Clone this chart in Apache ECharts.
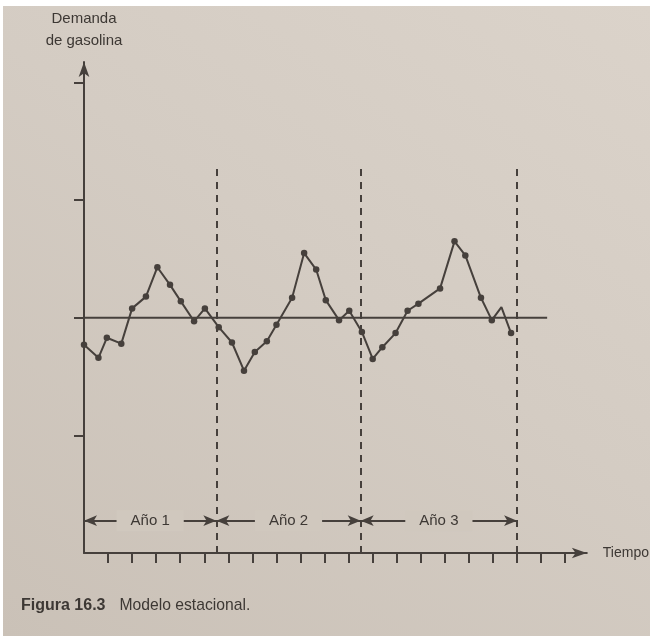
<!DOCTYPE html>
<html>
<head>
<meta charset="utf-8">
<script src="https://cdn.jsdelivr.net/npm/echarts@6/dist/echarts.min.js"></script>
<style>
  html, body { margin: 0; padding: 0; }
  body { width: 652px; height: 636px; background: #ffffff; position: relative; overflow: hidden; }
  #paper {
    position: absolute; left: 3px; top: 6px; width: 647px; height: 630px;
    background: linear-gradient(215deg, #dbd3ca 0%, #d4ccc3 45%, #cac1b7 100%);
  }
  #chart { position: absolute; left: 0; top: 0; width: 652px; height: 636px; }
</style>
</head>
<body>
<div id="paper"></div>
<div id="chart"></div>
<script>
// ---- data ----
// time position of each observation (months, 0 = y-axis)
const timeX = [0, 1.2, 1.9, 3.1, 4.0, 5.15, 6.1, 7.15, 8.05, 9.15, 10.05, 11.2,
               12.3, 13.3, 14.2, 15.2, 16.0, 17.3, 18.3, 19.3, 20.1, 21.2, 22.05, 23.1,
               24.0, 24.8, 25.9, 26.9, 27.8, 29.6, 30.8, 31.7, 33.0, 33.9, 34.7, 35.5];
// demand values (axis units, tick every 1)
const demand = [1.77, 1.66, 1.83, 1.78, 2.08, 2.18, 2.43, 2.28, 2.14, 1.97, 2.08, 1.92,
                1.79, 1.55, 1.71, 1.80, 1.94, 2.17, 2.55, 2.41, 2.15, 1.98, 2.06, 1.88,
                1.65, 1.75, 1.87, 2.06, 2.12, 2.25, 2.65, 2.53, 2.17, 1.98, 2.09, 1.87];
const noDotIndex = [34];               // vertex drawn without a dot
const levelValue = 2;                   // horizontal average level
const levelSpan = [-1, 38.5];           // extent of the level line
const yearBounds = [11, 23, 36];        // dashed year boundaries
const boundTop = 3.3;                   // top of dashed lines
const yearSpans = [[0, 11], [11, 23], [23, 36]];
const yearLabels = ['Año 1', 'Año 2', 'Año 3'];
const yearArrowY = 0.275;
const xTicks = [2, 4, 6, 8, 10, 12, 14, 16, 18, 20, 22, 24, 26, 28, 30, 32, 34, 36, 38, 40];
const yTicks = [1, 2, 3, 4];

const ink = '#46403c';
const txt = '#3d3834';
const FONT = '"Liberation Sans", Arial, Helvetica, sans-serif';

const chart = echarts.init(document.getElementById('chart'), null, { renderer: 'canvas' });

const mainData = timeX.map((x, i) => {
  const item = { value: [x, demand[i]] };
  if (noDotIndex.indexOf(i) >= 0) item.symbol = 'none';
  return item;
});

const option = {
  backgroundColor: 'transparent',
  animation: false,
  textStyle: { fontFamily: FONT },
  title: {
    left: 21, top: 597, padding: 0,
    text: '{b|Figura 16.3}  {n|Modelo estacional.}',
    textStyle: {
      fontWeight: 'normal',
      rich: {
        b: { fontFamily: FONT, fontWeight: 'bold', fontSize: 16, color: txt, padding: [0, 4, 0, 0] },
        n: { fontFamily: FONT, fontWeight: 'normal', fontSize: 15.7, color: txt }
      }
    }
  },
  grid: { left: 84, top: 62, width: 503, height: 491, containLabel: false },
  xAxis: {
    type: 'value', min: 0, max: 41.8,
    name: 'Tiempo', nameLocation: 'end', nameGap: 16,
    nameTextStyle: { fontFamily: FONT, fontSize: 14, color: txt, verticalAlign: 'middle' },
    axisLine: { show: true, onZero: false, symbol: ['none', 'arrow'], symbolSize: [8, 15],
                lineStyle: { color: ink, width: 2 } },
    axisTick: { show: true, inside: false, length: 10, customValues: xTicks,
                lineStyle: { color: ink, width: 2 } },
    axisLabel: { show: false },
    splitLine: { show: false }
  },
  yAxis: {
    type: 'value', min: 0, max: 4.175,
    name: 'Demanda\nde gasolina', nameLocation: 'end', nameGap: 10,
    nameTextStyle: { fontFamily: FONT, fontSize: 15, lineHeight: 22, color: txt, align: 'center' },
    axisLine: { show: true, onZero: false, symbol: ['none', 'arrow'], symbolSize: [8, 15],
                lineStyle: { color: ink, width: 2 } },
    axisTick: { show: true, inside: false, length: 10, customValues: yTicks,
                lineStyle: { color: ink, width: 2 } },
    axisLabel: { show: false },
    splitLine: { show: false }
  },
  series: [
    {
      name: 'nivel', type: 'line', clip: false, symbol: 'none', silent: true,
      data: levelSpan.map(x => [x, levelValue]),
      lineStyle: { color: ink, width: 2 }
    },
    {
      name: 'límites', type: 'line', data: [], silent: true,
      markLine: {
        silent: true, symbol: ['none', 'none'], label: { show: false },
        lineStyle: { color: ink, width: 2, type: [7, 6] },
        data: yearBounds.map(b => [{ coord: [b, 0] }, { coord: [b, boundTop] }])
      }
    },
    {
      name: 'años', type: 'line', data: [], silent: true,
      markLine: {
        silent: true, symbol: ['arrow', 'arrow'], symbolSize: [8, 13],
        lineStyle: { color: ink, width: 2, type: 'solid' },
        label: {
          show: true, position: 'insideMiddle', formatter: '{b}',
          fontFamily: FONT, fontSize: 15, color: txt,
          backgroundColor: '#d0c8be', padding: [3, 14], distance: 0
        },
        data: yearSpans.map((s, i) => [
          { coord: [s[0], yearArrowY], name: yearLabels[i] },
          { coord: [s[1], yearArrowY] }
        ])
      }
    },
    {
      name: 'Demanda de gasolina', type: 'line', clip: false,
      data: mainData,
      symbol: 'circle', symbolSize: 6.5,
      itemStyle: { color: ink },
      lineStyle: { color: ink, width: 2 }
    }
  ]
};
chart.setOption(option);
</script>
</body>
</html>
